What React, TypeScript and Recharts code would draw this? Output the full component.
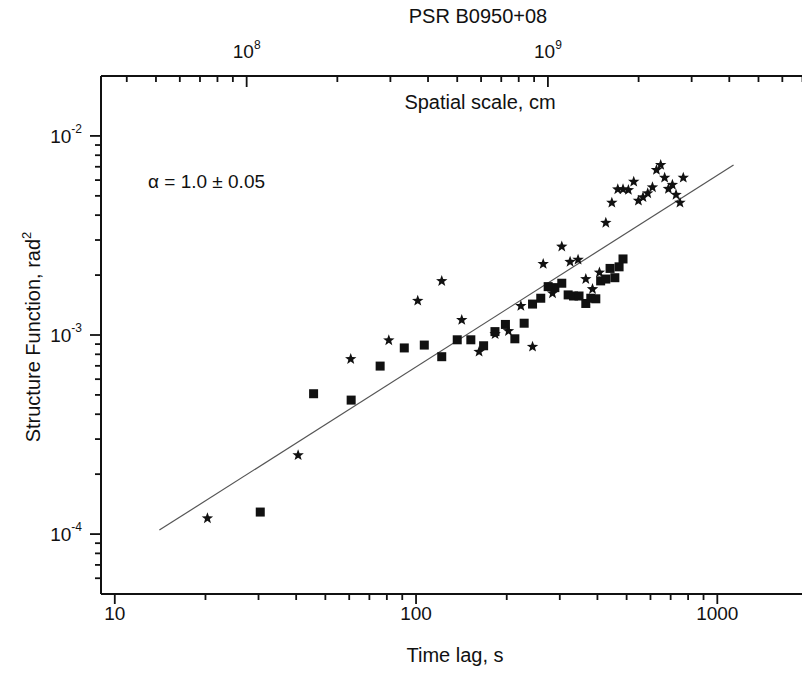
import { ScatterChart, Scatter, XAxis, YAxis } from "recharts";

// PSR B0950+08 structure function
const squareLag = [30.4, 45.7, 60.9, 76.0, 91.4, 106.5, 121.7, 137, 152, 167.6, 182.8, 198, 212.8, 228.5, 243.6, 259.4, 274.5, 288.9, 304.6, 319.8, 333.2, 347.5, 366, 380.2, 395.1, 410, 426.5, 440.6, 457, 472, 486.4];
const squareSF = [1.29e-4, 5.07e-4, 4.71e-4, 6.98e-4, 8.61e-4, 8.9e-4, 7.78e-4, 9.46e-4, 9.46e-4, 8.83e-4, 1.04e-3, 1.13e-3, 9.57e-4, 1.146e-3, 1.43e-3, 1.53e-3, 1.75e-3, 1.73e-3, 1.82e-3, 1.59e-3, 1.57e-3, 1.57e-3, 1.44e-3, 1.53e-3, 1.52e-3, 1.87e-3, 1.91e-3, 2.16e-3, 1.94e-3, 2.2e-3, 2.41e-3];

const starLag = [20.3, 40.6, 60.7, 81.2, 101.3, 121.7, 141.8, 161.9, 183, 202.7, 222.8, 243.6, 264.3, 283.8, 304.6, 324.6, 345, 366, 385.2, 406.2, 426.5, 446.6, 467.3, 486.4, 506.8, 527.9, 547.2, 566.6, 587.5, 609.1, 628.1, 648.7, 668.6, 688.3, 709.4, 729.5, 751.7, 771];
const starSF = [1.2e-4, 2.49e-4, 7.57e-4, 9.4e-4, 1.486e-3, 1.866e-3, 1.19e-3, 8.24e-4, 1.01e-3, 1.047e-3, 1.4e-3, 8.73e-4, 2.275e-3, 1.62e-3, 2.78e-3, 2.33e-3, 2.39e-3, 1.91e-3, 1.7e-3, 2.06e-3, 3.66e-3, 4.62e-3, 5.39e-3, 5.4e-3, 5.35e-3, 5.89e-3, 4.73e-3, 4.92e-3, 5.15e-3, 5.52e-3, 6.75e-3, 7.15e-3, 6.17e-3, 5.42e-3, 5.68e-3, 5.06e-3, 4.62e-3, 6.17e-3];

// power-law fit end points
const fitLag = [14.06, 1132];
const fitSF = [1.047e-4, 7.15e-3];

// tick values
const lagTicks = [10, 20, 30, 40, 50, 60, 70, 80, 90, 100, 200, 300, 400, 500, 600, 700, 800, 900, 1000, 2000];
const cmTicks = [4e7, 5e7, 6e7, 7e7, 8e7, 9e7, 1e8, 2e8, 3e8, 4e8, 5e8, 6e8, 7e8, 8e8, 9e8, 1e9, 2e9, 3e9, 4e9, 5e9, 6e9, 7e9];
const sfTicks = [6e-5, 7e-5, 8e-5, 9e-5, 1e-4, 2e-4, 3e-4, 4e-4, 5e-4, 6e-4, 7e-4, 8e-4, 9e-4, 1e-3, 2e-3, 3e-3, 4e-3, 5e-3, 6e-3, 7e-3, 8e-3, 9e-3, 1e-2];

const CM_PER_S = 3.65e6;
const lagDomain = [9, 2000];
const cmDomain = [lagDomain[0] * CM_PER_S, lagDomain[1] * CM_PER_S];

const squares = squareLag.map((t, i) => ({ t, sf: squareSF[i] }));
const stars = starLag.map((t, i) => ({ t, sf: starSF[i] }));
const fit = fitLag.map((t, i) => ({ t, cm: t * CM_PER_S, sf: fitSF[i] }));

const FONT = "'Liberation Sans', Arial, sans-serif";
const INK = "#111";

const isMajor = (v: number) => Math.abs(Math.log10(v) - Math.round(Math.log10(v))) < 1e-6;

const BottomTick = (props: any) => {
  const { x, y, payload } = props;
  const major = isMajor(payload.value);
  return (
    <g>
      <line x1={x} y1={y} x2={x} y2={y + (major ? 10 : 6)} stroke={INK} strokeWidth={1.8} />
      {major && (
        <text x={x} y={y + 26} textAnchor="middle" fontSize={19} fontFamily={FONT} fill={INK}>
          {Math.round(payload.value)}
        </text>
      )}
    </g>
  );
};

const TopTick = (props: any) => {
  const { x, y, payload } = props;
  const major = isMajor(payload.value);
  return (
    <g>
      <line x1={x} y1={y} x2={x} y2={y + (major ? 11 : 6)} stroke={INK} strokeWidth={1.8} />
      {major && (
        <text x={x} y={y - 18} textAnchor="middle" fontSize={19} fontFamily={FONT} fill={INK}>
          <tspan>10</tspan>
          <tspan dy={-9} fontSize={12}>{Math.round(Math.log10(payload.value))}</tspan>
        </text>
      )}
    </g>
  );
};

const LeftTick = (props: any) => {
  const { x, y, payload } = props;
  const major = isMajor(payload.value);
  return (
    <g>
      <line x1={x - (major ? 11 : 6)} y1={y} x2={x} y2={y} stroke={INK} strokeWidth={1.8} />
      {major && (
        <text x={x - 19} y={y + 7} textAnchor="end" fontSize={19} fontFamily={FONT} fill={INK}>
          <tspan>10</tspan>
          <tspan dy={-10} fontSize={12}>{Math.round(Math.log10(payload.value))}</tspan>
        </text>
      )}
    </g>
  );
};

const Square = (props: any) => {
  const { cx, cy } = props;
  return <rect x={cx - 4.5} y={cy - 4.5} width={9} height={9} fill={INK} />;
};

const Star = (props: any) => {
  const { cx, cy } = props;
  const pts: string[] = [];
  for (let k = 0; k < 10; k++) {
    const r = k % 2 === 0 ? 6 : 2.5;
    const a = -Math.PI / 2 + (k * Math.PI) / 5;
    pts.push(`${cx + r * Math.cos(a)},${cy + r * Math.sin(a)}`);
  }
  return <polygon points={pts.join(" ")} fill={INK} />;
};

const NoDot = () => null;

export default function App() {
  return (
    <div style={{ position: "absolute", left: 0, top: 0, width: 802, height: 675, overflow: "hidden", background: "#fff" }}>
      <ScatterChart width={820} height={675} margin={{ top: 0, right: 12, bottom: 0, left: 0 }}>
        <XAxis
          xAxisId="lag"
          dataKey="t"
          type="number"
          scale="log"
          domain={lagDomain}
          allowDataOverflow
          ticks={lagTicks}
          interval={0}
          orientation="bottom"
          height={81}
          tickSize={0}
          tickMargin={0}
          tickLine={false}
          tick={<BottomTick />}
          axisLine={{ stroke: INK, strokeWidth: 2 }}
        />
        <XAxis
          xAxisId="cm"
          dataKey="cm"
          type="number"
          scale="log"
          domain={cmDomain}
          allowDataOverflow
          ticks={cmTicks}
          interval={0}
          orientation="top"
          height={76}
          tickSize={0}
          tickMargin={0}
          tickLine={false}
          tick={<TopTick />}
          axisLine={{ stroke: INK, strokeWidth: 2 }}
        />
        <YAxis
          yAxisId="sf"
          dataKey="sf"
          type="number"
          scale="log"
          domain={[5e-5, 0.02]}
          allowDataOverflow
          ticks={sfTicks}
          interval={0}
          width={101}
          tickSize={0}
          tickMargin={0}
          tickLine={false}
          tick={<LeftTick />}
          axisLine={{ stroke: INK, strokeWidth: 2 }}
        />
        <Scatter
          xAxisId="lag"
          yAxisId="sf"
          data={fit}
          line={{ stroke: "#555", strokeWidth: 1.2 }}
          shape={<NoDot />}
          isAnimationActive={false}
        />
        <Scatter xAxisId="cm" yAxisId="sf" data={fit} shape={<NoDot />} isAnimationActive={false} />
        <Scatter xAxisId="lag" yAxisId="sf" data={squares} shape={<Square />} isAnimationActive={false} />
        <Scatter xAxisId="lag" yAxisId="sf" data={stars} shape={<Star />} isAnimationActive={false} />
        <text x={478} y={23} textAnchor="middle" fontSize={20} fontFamily={FONT} fill={INK}>
          PSR B0950+08
        </text>
        <text x={480} y={109} textAnchor="middle" fontSize={20} fontFamily={FONT} fill={INK}>
          Spatial scale, cm
        </text>
        <text x={148} y={188} fontSize={19} fontFamily={FONT} fill={INK}>
          α = 1.0 ± 0.05
        </text>
        <text x={455} y={662} textAnchor="middle" fontSize={20} fontFamily={FONT} fill={INK}>
          Time lag, s
        </text>
        <text
          x={40}
          y={337}
          textAnchor="middle"
          fontSize={20}
          fontFamily={FONT}
          fill={INK}
          transform="rotate(-90 40 337)"
        >
          <tspan>Structure Function, rad</tspan>
          <tspan dy={-9} fontSize={13}>2</tspan>
        </text>
      </ScatterChart>
    </div>
  );
}
